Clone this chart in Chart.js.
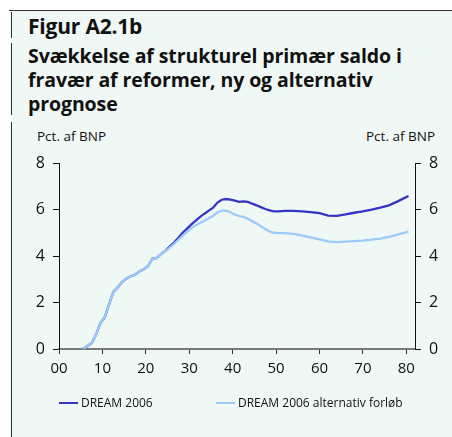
<!DOCTYPE html>
<html>
<head>
<meta charset="utf-8">
<script src="https://cdn.jsdelivr.net/npm/chart.js@4/dist/chart.umd.min.js"></script>
<style>
  html, body { margin: 0; padding: 0; background: #ffffff; }
  #wrap { position: relative; width: 452px; height: 437px; overflow: hidden; font-family: 'Open Sans', sans-serif; color: #111; }
  #panel { position: absolute; left: 12px; top: 11px; right: 0; bottom: 0; background: #f0f8f5; }
  .hline { position: absolute; left: 9px; top: 10px; width: 443px; height: 1px; background: #333; }
  .vline { position: absolute; left: 11px; width: 1px; background: #333; }
  #head { position: absolute; left: 28px; top: 12px; font-size: 21px; font-weight: 700; letter-spacing: -0.2px; }
  #title { position: absolute; left: 28px; top: 44px; font-size: 19.5px; font-weight: 700; line-height: 24px; letter-spacing: -0.1px; }
  .unit { position: absolute; top: 127px; font-size: 13.5px; }
  #chart { position: absolute; left: 0; top: 0; }
  .leg { position: absolute; top: 394px; font-size: 12px; white-space: nowrap; }
  .leg i { display: inline-block; width: 19px; height: 2px; vertical-align: middle; margin-right: 3px; position: relative; top: -1px; }
</style>
</head>
<body>
<div id="wrap">
  <div id="panel"></div>
  <div class="hline"></div>
  <div class="vline" style="top:12px;height:26px"></div>
  <div class="vline" style="top:43px;height:72px"></div>
  <div class="vline" style="top:122px;height:315px"></div>
  <div id="head">Figur A2.1b</div>
  <div id="title">Svækkelse af strukturel primær saldo i<br>fravær af reformer, ny og alternativ<br>prognose</div>
  <div class="unit" style="left:37px">Pct. af BNP</div>
  <div class="unit" style="left:366px">Pct. af BNP</div>
  <canvas id="chart" width="452" height="437"></canvas>
  <div class="leg" style="left:59px"><i style="background:#3434c6"></i>DREAM 2006</div>
  <div class="leg" style="left:216px"><i style="background:#9ccafa"></i>DREAM 2006 alternativ forløb</div>
</div>
<script>
const COLORS = {
  dream: '#3434c6',
  alt: '#9ccafa',
  axis: '#111111',
  baseAxis: '#7a7a7a',
  text: '#111111',
};

// år efter 2000
const years = [5.5, 6.5, 7.5, 8.5, 9.5, 10.5, 11.5, 12.5, 13.5, 14.5, 15.5, 16.5, 17.5, 18.5, 19.5,
  20.5, 21.5, 22.5, 23.5, 24.5, 25.5, 26.5, 27.5, 28.5, 29.5, 30.5, 31.5, 32.5, 33.5, 34.5,
  35.5, 36.5, 37.5, 38.5, 39.5, 40.5, 41.5, 42.5, 43.5, 44.5, 45.5, 46.5, 47.5, 48.5, 49.5,
  50.5, 52, 54, 56, 58, 60, 62, 64, 66, 68, 70, 72, 74, 76, 78, 80.5];

const dream2006 = [0, 0.12, 0.25, 0.6, 1.1, 1.35, 1.9, 2.45, 2.65, 2.88, 3.02, 3.13, 3.2, 3.33, 3.43,
  3.56, 3.88, 3.92, 4.08, 4.22, 4.4, 4.58, 4.78, 5.0, 5.18, 5.36, 5.52, 5.68, 5.82, 5.95,
  6.08, 6.3, 6.42, 6.45, 6.42, 6.38, 6.33, 6.35, 6.33, 6.25, 6.18, 6.1, 6.02, 5.96, 5.92,
  5.92, 5.94, 5.94, 5.92, 5.89, 5.84, 5.74, 5.73, 5.79, 5.86, 5.92, 5.99, 6.08, 6.18, 6.35, 6.58];

const dream2006Alt = [0, 0.12, 0.25, 0.6, 1.1, 1.35, 1.9, 2.45, 2.65, 2.88, 3.02, 3.13, 3.2, 3.33, 3.43,
  3.56, 3.88, 3.92, 4.08, 4.22, 4.36, 4.52, 4.7, 4.88, 5.05, 5.2, 5.32, 5.42, 5.52, 5.62,
  5.72, 5.88, 5.95, 5.95, 5.88, 5.78, 5.72, 5.68, 5.6, 5.5, 5.4, 5.28, 5.16, 5.06, 5.0,
  4.98, 4.98, 4.95, 4.88, 4.8, 4.72, 4.63, 4.6, 4.62, 4.64, 4.66, 4.7, 4.75, 4.82, 4.92, 5.05];

const yTicks = [0, 2, 4, 6, 8];
const xTicks = [0, 10, 20, 30, 40, 50, 60, 70, 80];

const toPoints = (vals) => vals.map((v, i) => ({ x: years[i], y: v }));

function yAxis(position, width) {
  return {
    type: 'linear',
    position,
    min: 0,
    max: 8,
    afterFit: (scale) => { scale.width = width; },
    afterBuildTicks: (scale) => { scale.ticks = yTicks.map((v) => ({ value: v })); },
    border: { color: COLORS.axis, width: 1 },
    grid: { drawOnChartArea: false, drawTicks: true, tickLength: 6, tickColor: COLORS.axis, lineWidth: 1 },
    ticks: {
      color: COLORS.text,
      padding: 8,
      font: { family: 'Open Sans', size: 16 },
    },
  };
}

new Chart(document.getElementById('chart'), {
  type: 'line',
  data: {
    datasets: [
      {
        label: 'DREAM 2006 alternativ forløb',
        data: toPoints(dream2006Alt),
        borderColor: COLORS.alt,
        borderWidth: 2.3,
        pointRadius: 0,
        tension: 0,
        yAxisID: 'y',
      },
      {
        label: 'DREAM 2006',
        data: toPoints(dream2006),
        borderColor: COLORS.dream,
        borderWidth: 2.3,
        pointRadius: 0,
        tension: 0,
        yAxisID: 'y',
      },
    ],
  },
  options: {
    responsive: false,
    animation: false,
    layout: { padding: { top: 163, right: 0, left: 0, bottom: 0 } },
    plugins: { legend: { display: false }, tooltip: { enabled: false } },
    scales: {
      x: {
        type: 'linear',
        min: 0,
        max: 82,
        afterFit: (scale) => { scale.height = 88; },
        afterBuildTicks: (scale) => { scale.ticks = xTicks.map((v) => ({ value: v })); },
        border: { color: COLORS.baseAxis, width: 2 },
        grid: { drawOnChartArea: false, drawTicks: true, tickLength: 5, tickColor: '#333', lineWidth: 1 },
        ticks: {
          color: COLORS.text,
          padding: 6,
          maxRotation: 0,
          font: { family: 'Open Sans', size: 15 },
          callback: (v) => String(v).padStart(2, '0'),
        },
      },
      y: yAxis('left', 59),
      y2: yAxis('right', 37),
    },
  },
});
</script>
</body>
</html>
